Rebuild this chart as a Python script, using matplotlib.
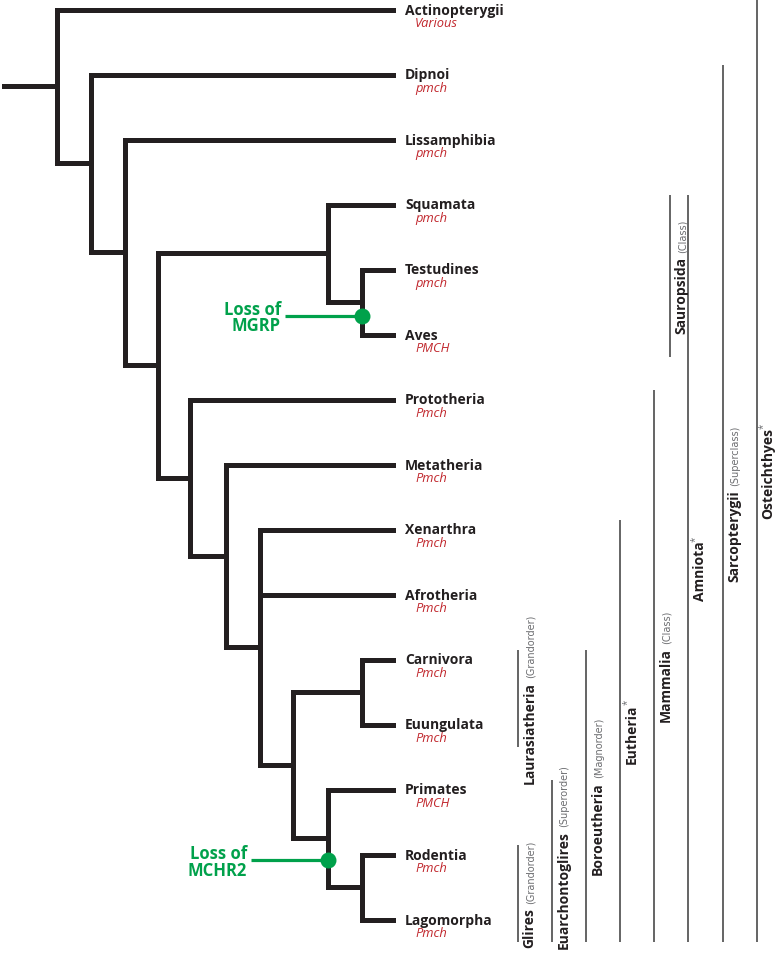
import matplotlib
matplotlib.use("Agg")
import matplotlib.pyplot as plt
from matplotlib.transforms import Bbox

# leaves, top to bottom
taxa = ["Actinopterygii", "Dipnoi", "Lissamphibia", "Squamata", "Testudines", "Aves",
        "Prototheria", "Metatheria", "Xenarthra", "Afrotheria", "Carnivora", "Euungulata",
        "Primates", "Rodentia", "Lagomorpha"]
genes = ["Various", "pmch", "pmch", "pmch", "pmch", "PMCH", "Pmch", "Pmch",
         "Pmch", "Pmch", "Pmch", "Pmch", "PMCH", "Pmch", "Pmch"]

# internal nodes: name -> (depth, children)
nodes = {
    "Osteichthyes": (57, ["Actinopterygii", "Sarcopterygii"]),
    "Sarcopterygii": (91, ["Dipnoi", "Tetrapoda"]),
    "Tetrapoda": (125, ["Lissamphibia", "Amniota"]),
    "Amniota": (158, ["Sauropsida", "Mammalia"]),
    "Sauropsida": (328, ["Squamata", "Archelosauria"]),
    "Archelosauria": (362, ["Testudines", "Aves"]),
    "Mammalia": (190, ["Prototheria", "Theria"]),
    "Theria": (226, ["Metatheria", "Eutheria"]),
    "Eutheria": (260, ["Xenarthra", "Afrotheria", "Boreoeutheria"]),
    "Boreoeutheria": (293, ["Laurasiatheria", "Euarchontoglires"]),
    "Laurasiatheria": (362, ["Carnivora", "Euungulata"]),
    "Euarchontoglires": (328, ["Primates", "Glires"]),
    "Glires": (362, ["Rodentia", "Lagomorpha"]),
}
root = "Osteichthyes"
tip_depth = 393

# gene-loss events: label, node, position along the node's vertical (leaf units)
events = [("Loss of\nMGRP", "Archelosauria", 4.71),
          ("Loss of\nMCHR2", "Euarchontoglires", 13.09)]

# clade brackets on the right: name, rank, asterisk, first leaf, last leaf, column
clade_names = ["Glires", "Laurasiatheria", "Euarchontoglires", "Boroeutheria", "Eutheria",
               "Mammalia", "Sauropsida", "Amniota", "Sarcopterygii", "Osteichthyes"]
clade_ranks = ["(Grandorder)", "(Grandorder)", "(Superorder)", "(Magnorder)", "",
               "(Class)", "(Class)", "", "(Superclass)", ""]
clade_star = [False, False, False, False, True, False, False, True, False, True]
clade_first = ["Rodentia", "Carnivora", "Primates", "Carnivora", "Xenarthra",
               "Prototheria", "Squamata", "Squamata", "Dipnoi", "Actinopterygii"]
clade_last = ["Lagomorpha", "Euungulata", "Lagomorpha", "Lagomorpha", "Lagomorpha",
              "Lagomorpha", "Aves", "Lagomorpha", "Lagomorpha", "Lagomorpha"]
clade_col = [0, 0, 1, 2, 3, 4, 4.45, 5, 6, 7]

TREE = "#231f20"
GREEN = "#00a14b"
RED = "#c1272d"
GREY = "#6d6e71"
SANS = ["Open Sans", "DejaVu Sans"]
NARROW = ["Liberation Sans Narrow", "DejaVu Sans"]

fig = plt.figure(figsize=(7.78, 9.54), dpi=100)
ax = fig.add_axes([0, 0, 1, 1])
ax.set_xlim(0, 778)
ax.set_ylim((954 - 10.5) / 65, -10.5 / 65)
ax.axis("off")

leaf_y = {t: i for i, t in enumerate(taxa)}
pos = {}


def place(n):
    if n in leaf_y:
        pos[n] = (tip_depth, leaf_y[n])
        return pos[n]
    depth, kids = nodes[n]
    ys = [place(k)[1] for k in kids]
    pos[n] = (depth, (ys[0] + ys[-1]) / 2)
    return pos[n]


place(root)

line_kw = dict(color=TREE, lw=3.6, solid_capstyle="projecting", solid_joinstyle="miter")
for n, (depth, kids) in nodes.items():
    for k in kids:
        kx, ky = pos[k]
        ax.plot([depth, depth, kx], [pos[n][1], ky, ky], **line_kw)
ax.plot([4, pos[root][0]], [pos[root][1]] * 2, **line_kw)

# leaf labels
for t, g in zip(taxa, genes):
    y = leaf_y[t]
    ax.text(405, y, t, fontsize=10, fontweight="bold", family=SANS, color=TREE,
            va="center", ha="left")
    ax.text(415, y + 0.2, g, fontsize=9.3, style="italic", family=SANS, color=RED,
            va="center", ha="left")

# gene-loss markers
for label, n, y in events:
    x = pos[n][0]
    ax.plot([x - 77, x], [y, y], color=GREEN, lw=2.3, solid_capstyle="butt")
    ax.plot(x, y, "o", color=GREEN, ms=11.5, mec="none")
    ax.text(x - 81, y + 0.02, label, fontsize=12, fontweight="bold", family=SANS,
            color=GREEN, ha="right", va="center", multialignment="right",
            linespacing=0.9)

# clade brackets
groups = []
for name, rank, star, first, last, col in zip(clade_names, clade_ranks, clade_star,
                                              clade_first, clade_last, clade_col):
    x = 518 + 34.1 * col
    top = max(leaf_y[first] - 0.15, -0.16)
    bottom = leaf_y[last] + 0.34
    ax.plot([x, x], [top, bottom], color="#3a3a3a", lw=1.1, solid_capstyle="butt")
    xb = x + 15.5
    t1 = ax.text(xb, bottom, name, fontsize=10, fontweight="bold", family=SANS,
                 color=TREE, rotation=90, rotation_mode="anchor", ha="left", va="baseline")
    parts = [t1]
    if rank:
        parts.append(ax.annotate(rank, xy=(xb, 1), xycoords=("data", t1),
                                 xytext=(0, 3), textcoords="offset points",
                                 fontsize=7, family=NARROW, color=GREY, rotation=90,
                                 rotation_mode="anchor", ha="left", va="baseline"))
    if star:
        parts.append(ax.annotate("*", xy=(xb, 1), xycoords=("data", t1),
                                 xytext=(-4.5, -0.6), textcoords="offset points",
                                 fontsize=7, family=SANS, color=GREY, rotation=90,
                                 rotation_mode="anchor", ha="left", va="baseline"))
    groups.append((t1, parts, x, (top + bottom) / 2))

# centre each rotated label on its bracket, keeping it inside the figure
fig.canvas.draw()
r = fig.canvas.get_renderer()
for t1, parts, x, mid in groups:
    bb = Bbox.union([p.get_window_extent(r) for p in parts])
    target = ax.transData.transform((x, mid))[1]
    dy = target - (bb.y0 + bb.y1) / 2
    dy = max(dy, 5 - bb.y0)
    ax_disp = ax.transData.transform(t1.get_position())
    new = ax.transData.inverted().transform((ax_disp[0], ax_disp[1] + dy))
    t1.set_position((t1.get_position()[0], new[1]))

fig.savefig("out.png", dpi=100)
